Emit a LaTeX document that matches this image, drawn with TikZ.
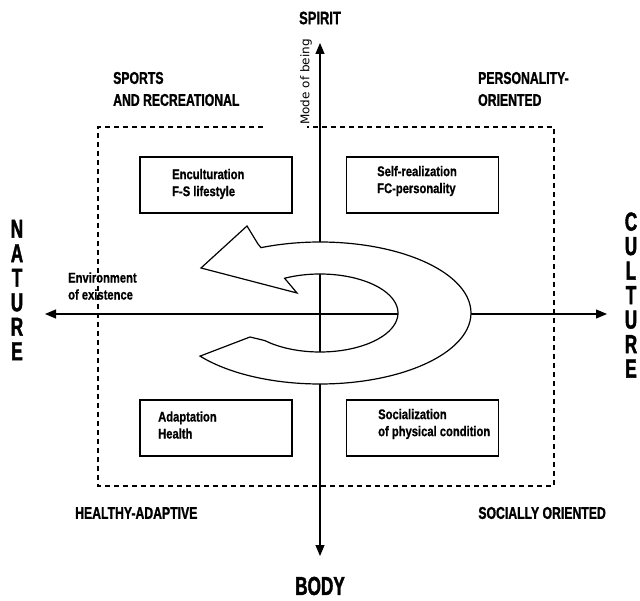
\documentclass[tikz,border=0pt]{standalone}
\usepackage{fontspec}
\setmainfont{Liberation Sans}
\newfontfamily\cnA[FakeStretch=0.8, BoldFeatures={FakeBold=0.8}]{Liberation Sans}
\newfontfamily\cnB[FakeStretch=0.72, BoldFeatures={FakeBold=1.2}]{Liberation Sans}
\newfontfamily\cnC[FakeStretch=0.66, BoldFeatures={FakeBold=1.5}]{Liberation Sans}
\newfontfamily\modef{DejaVu Sans}
\usetikzlibrary{arrows.meta}
\begin{document}
\begin{tikzpicture}[x=1pt,y=-1pt,
  axisline/.style={line width=1.2pt, {Triangle[length=11pt,width=9pt]}-{Triangle[length=11pt,width=9pt]}},
  frame/.style={line width=1.3pt, dash pattern=on 5pt off 4pt},
  box/.style={draw, line width=1.3pt, minimum width=152pt, minimum height=56pt, inner sep=0pt},
  btext/.style={font=\cnA\bfseries\fontsize{14}{17}\selectfont, align=left, anchor=west, inner sep=0pt},
  corner/.style={font=\cnB\bfseries\fontsize{17}{22}\selectfont, align=left, inner sep=0pt},
  pole/.style={font=\cnC\bfseries\fontsize{26}{24.5}\selectfont, align=center, inner sep=0pt},
  bigarrow/.style={draw, fill=white, line width=1.2pt, line join=miter}
]
\useasboundingbox (0,0) rectangle (640,601);

% axes
\coordinate (ytop) at (320,43);
\coordinate (ybot) at (320,556);
\coordinate (xleft) at (45,314);
\coordinate (xright) at (607,314);
\draw[axisline] (ybot) -- (ytop);
\draw[axisline] (xleft) -- (xright);

% dashed frame
\coordinate (f1) at (263,127);
\coordinate (f2) at (98,127);
\coordinate (f3) at (98,486);
\coordinate (f4) at (554,486);
\coordinate (f5) at (554,127);
\coordinate (f6) at (307,127);
\draw[frame] (f1) -- (f2) -- (f3) -- (f4) -- (f5) -- (f6);

% big curved arrow
\draw[bigarrow] (201,268) -- (247,226) -- (258,244)
  -- plot[smooth, domain=-113:142.6, samples=80] ({320+151*cos(\x)},{313+71*sin(\x)})
  -- (250,337)
  -- plot[smooth, domain=135:-117, samples=60] ({320+78*cos(\x)},{313+39*sin(\x)})
  -- (297,293) -- cycle;

% boxes
\node[box] (b1) at (216,185) {};
\node[box] (b2) at (422.5,185) {};
\node[box] (b3) at (216,428) {};
\node[box] (b4) at (422.5,428) {};
\node[btext] (t1) at (172,184) {Enculturation\\F-S lifestyle};
\node[btext] (t2) at (377,181) {Self-realization\\FC-personality};
\node[btext] (t3) at (158,425) {Adaptation\\Health};
\node[btext] (t4) at (378,424) {Socialization\\of physical condition};

% labels
\node[font=\cnB\bfseries\fontsize{18}{20}\selectfont, inner sep=0pt] (spirit) at (320,18) {SPIRIT};
\node[font=\cnC\bfseries\fontsize{26}{28}\selectfont, inner sep=0pt] (body) at (320,586) {BODY};
\node[corner, anchor=west] (sports) at (113,89) {SPORTS\\AND RECREATIONAL};
\node[corner, anchor=west] (pers) at (478,89) {PERSONALITY-\\ORIENTED};
\node[corner, anchor=west] (health) at (75,513) {HEALTHY-ADAPTIVE};
\node[corner, anchor=east] (social) at (606,513) {SOCIALLY ORIENTED};
\node[pole] (nature) at (17,290) {N\\A\\T\\U\\R\\E};
\node[pole] (culture) at (631,295) {C\\U\\L\\T\\U\\R\\E};
\node[btext] (env) at (68,286) {Environment\\of existence};
\node[font=\modef\fontsize{12}{14}\selectfont, rotate=90, inner sep=0pt] (mode) at (306,82) {Mode of being};
\end{tikzpicture}
\end{document}
